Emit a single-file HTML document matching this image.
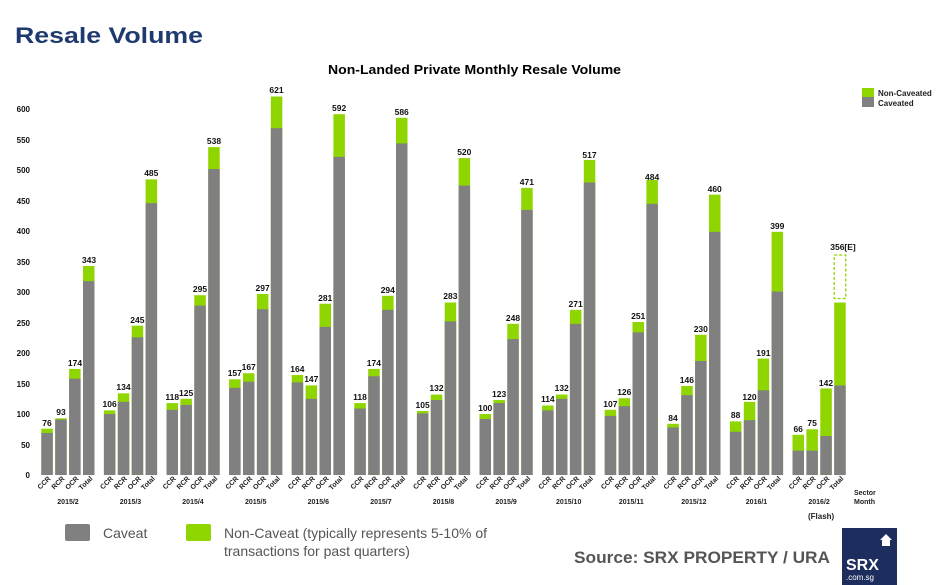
<!DOCTYPE html>
<html><head><meta charset="utf-8"><style>
html,body{margin:0;padding:0;background:#fff;}
body{width:944px;height:585px;overflow:hidden;position:relative;font-family:"Liberation Sans",Arial,sans-serif;}
</style></head><body>
<svg width="944" height="585" viewBox="0 0 944 585" xmlns="http://www.w3.org/2000/svg" style="position:absolute;left:0;top:0;font-family:'Liberation Sans',Arial,sans-serif">
<text x="15" y="43" font-size="22" font-weight="bold" fill="#1f3a6e" textLength="188" lengthAdjust="spacingAndGlyphs">Resale Volume</text>
<text x="328" y="74" font-size="13" font-weight="bold" fill="#000" textLength="293" lengthAdjust="spacingAndGlyphs">Non-Landed Private Monthly Resale Volume</text>
<rect x="862" y="88" width="12" height="9" fill="#8fd600"/><rect x="862" y="97" width="12" height="10" fill="#808080"/>
<text x="878" y="96" font-size="8" font-weight="bold" fill="#222">Non-Caveated</text>
<text x="878" y="106" font-size="8" font-weight="bold" fill="#222">Caveated</text>
<g font-size="8" font-weight="bold" fill="#111" text-anchor="end">
<text x="30" y="478">0</text><text x="30" y="448">50</text><text x="30" y="417">100</text><text x="30" y="387">150</text><text x="30" y="356">200</text><text x="30" y="326">250</text><text x="30" y="295">300</text><text x="30" y="265">350</text><text x="30" y="234">400</text><text x="30" y="204">450</text><text x="30" y="173">500</text><text x="30" y="143">550</text><text x="30" y="112">600</text>
</g>
<g transform="translate(0,475) scale(1,-0.6095)">
<g fill="#8fd600">
<rect x="41.3" y="0" width="11.5" height="76"/><rect x="55.2" y="0" width="11.5" height="93"/><rect x="69.1" y="0" width="11.5" height="174"/><rect x="83" y="0" width="11.5" height="343"/>
<rect x="103.9" y="0" width="11.5" height="106"/><rect x="117.8" y="0" width="11.5" height="134"/><rect x="131.7" y="0" width="11.5" height="245"/><rect x="145.6" y="0" width="11.5" height="485"/>
<rect x="166.5" y="0" width="11.5" height="118"/><rect x="180.4" y="0" width="11.5" height="125"/><rect x="194.3" y="0" width="11.5" height="295"/><rect x="208.2" y="0" width="11.5" height="538"/>
<rect x="229.1" y="0" width="11.5" height="157"/><rect x="243" y="0" width="11.5" height="167"/><rect x="256.9" y="0" width="11.5" height="297"/><rect x="270.8" y="0" width="11.5" height="621"/>
<rect x="291.7" y="0" width="11.5" height="164"/><rect x="305.6" y="0" width="11.5" height="147"/><rect x="319.5" y="0" width="11.5" height="281"/><rect x="333.4" y="0" width="11.5" height="592"/>
<rect x="354.3" y="0" width="11.5" height="118"/><rect x="368.2" y="0" width="11.5" height="174"/><rect x="382.1" y="0" width="11.5" height="294"/><rect x="396" y="0" width="11.5" height="586"/>
<rect x="416.9" y="0" width="11.5" height="105"/><rect x="430.8" y="0" width="11.5" height="132"/><rect x="444.7" y="0" width="11.5" height="283"/><rect x="458.6" y="0" width="11.5" height="520"/>
<rect x="479.5" y="0" width="11.5" height="100"/><rect x="493.4" y="0" width="11.5" height="123"/><rect x="507.3" y="0" width="11.5" height="248"/><rect x="521.2" y="0" width="11.5" height="471"/>
<rect x="542.1" y="0" width="11.5" height="114"/><rect x="556" y="0" width="11.5" height="132"/><rect x="569.9" y="0" width="11.5" height="271"/><rect x="583.8" y="0" width="11.5" height="517"/>
<rect x="604.7" y="0" width="11.5" height="107"/><rect x="618.6" y="0" width="11.5" height="126"/><rect x="632.5" y="0" width="11.5" height="251"/><rect x="646.4" y="0" width="11.5" height="484"/>
<rect x="667.3" y="0" width="11.5" height="84"/><rect x="681.2" y="0" width="11.5" height="146"/><rect x="695.1" y="0" width="11.5" height="230"/><rect x="709" y="0" width="11.5" height="460"/>
<rect x="729.9" y="0" width="11.5" height="88"/><rect x="743.8" y="0" width="11.5" height="120"/><rect x="757.7" y="0" width="11.5" height="191"/><rect x="771.6" y="0" width="11.5" height="399"/>
<rect x="792.5" y="0" width="11.5" height="66"/><rect x="806.4" y="0" width="11.5" height="75"/><rect x="820.3" y="0" width="11.5" height="142"/><rect x="834.2" y="0" width="11.5" height="283"/>
</g>
<g fill="#808080">
<rect x="41.3" y="0" width="11.5" height="69"/><rect x="55.2" y="0" width="11.5" height="91"/><rect x="69.1" y="0" width="11.5" height="158"/><rect x="83" y="0" width="11.5" height="318"/>
<rect x="103.9" y="0" width="11.5" height="100"/><rect x="117.8" y="0" width="11.5" height="120"/><rect x="131.7" y="0" width="11.5" height="226"/><rect x="145.6" y="0" width="11.5" height="446"/>
<rect x="166.5" y="0" width="11.5" height="107"/><rect x="180.4" y="0" width="11.5" height="115"/><rect x="194.3" y="0" width="11.5" height="278"/><rect x="208.2" y="0" width="11.5" height="502"/>
<rect x="229.1" y="0" width="11.5" height="143"/><rect x="243" y="0" width="11.5" height="153"/><rect x="256.9" y="0" width="11.5" height="272"/><rect x="270.8" y="0" width="11.5" height="569"/>
<rect x="291.7" y="0" width="11.5" height="152"/><rect x="305.6" y="0" width="11.5" height="125"/><rect x="319.5" y="0" width="11.5" height="243"/><rect x="333.4" y="0" width="11.5" height="522"/>
<rect x="354.3" y="0" width="11.5" height="109"/><rect x="368.2" y="0" width="11.5" height="162"/><rect x="382.1" y="0" width="11.5" height="271"/><rect x="396" y="0" width="11.5" height="544"/>
<rect x="416.9" y="0" width="11.5" height="101"/><rect x="430.8" y="0" width="11.5" height="123"/><rect x="444.7" y="0" width="11.5" height="252"/><rect x="458.6" y="0" width="11.5" height="475"/>
<rect x="479.5" y="0" width="11.5" height="92"/><rect x="493.4" y="0" width="11.5" height="118"/><rect x="507.3" y="0" width="11.5" height="223"/><rect x="521.2" y="0" width="11.5" height="435"/>
<rect x="542.1" y="0" width="11.5" height="106"/><rect x="556" y="0" width="11.5" height="125"/><rect x="569.9" y="0" width="11.5" height="248"/><rect x="583.8" y="0" width="11.5" height="480"/>
<rect x="604.7" y="0" width="11.5" height="97"/><rect x="618.6" y="0" width="11.5" height="113"/><rect x="632.5" y="0" width="11.5" height="234"/><rect x="646.4" y="0" width="11.5" height="445"/>
<rect x="667.3" y="0" width="11.5" height="78"/><rect x="681.2" y="0" width="11.5" height="131"/><rect x="695.1" y="0" width="11.5" height="187"/><rect x="709" y="0" width="11.5" height="399"/>
<rect x="729.9" y="0" width="11.5" height="71"/><rect x="743.8" y="0" width="11.5" height="90"/><rect x="757.7" y="0" width="11.5" height="139"/><rect x="771.6" y="0" width="11.5" height="301"/>
<rect x="792.5" y="0" width="11.5" height="40"/><rect x="806.4" y="0" width="11.5" height="40"/><rect x="820.3" y="0" width="11.5" height="64"/><rect x="834.2" y="0" width="11.5" height="147"/>
</g>
</g>
<rect x="834.2" y="255" width="11.5" height="43.5" fill="none" stroke="#8fd600" stroke-width="1.3" stroke-dasharray="3,2"/>
<g font-size="8.5" font-weight="bold" fill="#111" text-anchor="middle">
<text x="47" y="426">76</text><text x="61" y="415">93</text><text x="75" y="366">174</text><text x="89" y="263">343</text>
<text x="109.6" y="407">106</text><text x="123.5" y="390">134</text><text x="137.4" y="323">245</text><text x="151.3" y="176">485</text>
<text x="172.2" y="400">118</text><text x="186.1" y="396">125</text><text x="200" y="292">295</text><text x="214" y="144">538</text>
<text x="234.8" y="376">157</text><text x="248.7" y="370">167</text><text x="262.6" y="291">297</text><text x="276.5" y="93">621</text>
<text x="297.4" y="372">164</text><text x="311.3" y="382">147</text><text x="325.2" y="301">281</text><text x="339.1" y="111">592</text>
<text x="360" y="400">118</text><text x="373.9" y="366">174</text><text x="387.8" y="293">294</text><text x="401.7" y="115">586</text>
<text x="422.6" y="408">105</text><text x="436.5" y="391">132</text><text x="450.4" y="299">283</text><text x="464.3" y="155">520</text>
<text x="485.2" y="411">100</text><text x="499.1" y="397">123</text><text x="513" y="321">248</text><text x="526.9" y="185">471</text>
<text x="547.8" y="402">114</text><text x="561.7" y="391">132</text><text x="575.6" y="307">271</text><text x="589.5" y="158">517</text>
<text x="610.4" y="407">107</text><text x="624.3" y="395">126</text><text x="638.2" y="319">251</text><text x="652.1" y="180">484</text>
<text x="673" y="421">84</text><text x="686.9" y="383">146</text><text x="700.8" y="332">230</text><text x="714.7" y="192">460</text>
<text x="735.6" y="418">88</text><text x="749.5" y="400">120</text><text x="763.4" y="356">191</text><text x="777.3" y="229">399</text>
<text x="798.2" y="432">66</text><text x="812.1" y="426">75</text><text x="826" y="386">142</text><text x="843" y="250">356[E]</text>
</g>
<g font-size="7" font-weight="bold" fill="#222" text-anchor="end">
<text transform="translate(51,479) rotate(-45)">CCR</text><text transform="translate(65,479) rotate(-45)">RCR</text><text transform="translate(79,479) rotate(-45)">OCR</text><text transform="translate(93,479) rotate(-45)">Total</text>
<text transform="translate(113.6,479) rotate(-45)">CCR</text><text transform="translate(127.5,479) rotate(-45)">RCR</text><text transform="translate(141.4,479) rotate(-45)">OCR</text><text transform="translate(155.3,479) rotate(-45)">Total</text>
<text transform="translate(176.2,479) rotate(-45)">CCR</text><text transform="translate(190.1,479) rotate(-45)">RCR</text><text transform="translate(204,479) rotate(-45)">OCR</text><text transform="translate(217.9,479) rotate(-45)">Total</text>
<text transform="translate(238.8,479) rotate(-45)">CCR</text><text transform="translate(252.7,479) rotate(-45)">RCR</text><text transform="translate(266.6,479) rotate(-45)">OCR</text><text transform="translate(280.5,479) rotate(-45)">Total</text>
<text transform="translate(301.4,479) rotate(-45)">CCR</text><text transform="translate(315.3,479) rotate(-45)">RCR</text><text transform="translate(329.2,479) rotate(-45)">OCR</text><text transform="translate(343.1,479) rotate(-45)">Total</text>
<text transform="translate(364,479) rotate(-45)">CCR</text><text transform="translate(377.9,479) rotate(-45)">RCR</text><text transform="translate(391.8,479) rotate(-45)">OCR</text><text transform="translate(405.7,479) rotate(-45)">Total</text>
<text transform="translate(426.6,479) rotate(-45)">CCR</text><text transform="translate(440.5,479) rotate(-45)">RCR</text><text transform="translate(454.4,479) rotate(-45)">OCR</text><text transform="translate(468.3,479) rotate(-45)">Total</text>
<text transform="translate(489.2,479) rotate(-45)">CCR</text><text transform="translate(503.1,479) rotate(-45)">RCR</text><text transform="translate(517,479) rotate(-45)">OCR</text><text transform="translate(530.9,479) rotate(-45)">Total</text>
<text transform="translate(551.8,479) rotate(-45)">CCR</text><text transform="translate(565.7,479) rotate(-45)">RCR</text><text transform="translate(579.6,479) rotate(-45)">OCR</text><text transform="translate(593.5,479) rotate(-45)">Total</text>
<text transform="translate(614.4,479) rotate(-45)">CCR</text><text transform="translate(628.3,479) rotate(-45)">RCR</text><text transform="translate(642.2,479) rotate(-45)">OCR</text><text transform="translate(656.1,479) rotate(-45)">Total</text>
<text transform="translate(677,479) rotate(-45)">CCR</text><text transform="translate(690.9,479) rotate(-45)">RCR</text><text transform="translate(704.8,479) rotate(-45)">OCR</text><text transform="translate(718.7,479) rotate(-45)">Total</text>
<text transform="translate(739.6,479) rotate(-45)">CCR</text><text transform="translate(753.5,479) rotate(-45)">RCR</text><text transform="translate(767.4,479) rotate(-45)">OCR</text><text transform="translate(781.3,479) rotate(-45)">Total</text>
<text transform="translate(802.2,479) rotate(-45)">CCR</text><text transform="translate(816.1,479) rotate(-45)">RCR</text><text transform="translate(830,479) rotate(-45)">OCR</text><text transform="translate(843.9,479) rotate(-45)">Total</text>
</g>
<g font-size="7" font-weight="bold" fill="#222" text-anchor="middle">
<text x="68" y="504">2015/2</text><text x="130.5" y="504">2015/3</text><text x="193" y="504">2015/4</text><text x="255.7" y="504">2015/5</text><text x="318.3" y="504">2015/6</text><text x="380.9" y="504">2015/7</text><text x="443.5" y="504">2015/8</text><text x="506.1" y="504">2015/9</text><text x="568.7" y="504">2015/10</text><text x="631.3" y="504">2015/11</text><text x="693.9" y="504">2015/12</text><text x="756.5" y="504">2016/1</text><text x="819.1" y="504">2016/2</text>
</g>
<text x="854" y="495" font-size="7" font-weight="bold" fill="#222">Sector</text>
<text x="854" y="504" font-size="7" font-weight="bold" fill="#222">Month</text>
<text x="808" y="519" font-size="8" font-weight="bold" fill="#222">(Flash)</text>
<rect x="65" y="524" width="25" height="17" rx="2" fill="#808080"/>
<text x="103" y="538" font-size="14" fill="#555">Caveat</text>
<rect x="186" y="524" width="25" height="17" rx="2" fill="#8fd600"/>
<text x="224" y="538" font-size="14" fill="#555">Non-Caveat (typically represents 5-10% of</text>
<text x="224" y="556" font-size="14" fill="#555">transactions for past quarters)</text>
<text x="574" y="563" font-size="17" font-weight="bold" fill="#555" textLength="256" lengthAdjust="spacingAndGlyphs">Source:  SRX PROPERTY / URA</text>
<rect x="842" y="528" width="55" height="57" fill="#1d2d5e"/>
<path d="M880 540 L886 534 L892 540 L890 540 L890 546 L882 546 L882 540 Z" fill="#fff"/>
<text x="846" y="570" font-size="16" font-weight="bold" fill="#fff">SRX</text>
<text x="846" y="580" font-size="8" fill="#fff">.com.sg</text>
</svg>
</body></html>
